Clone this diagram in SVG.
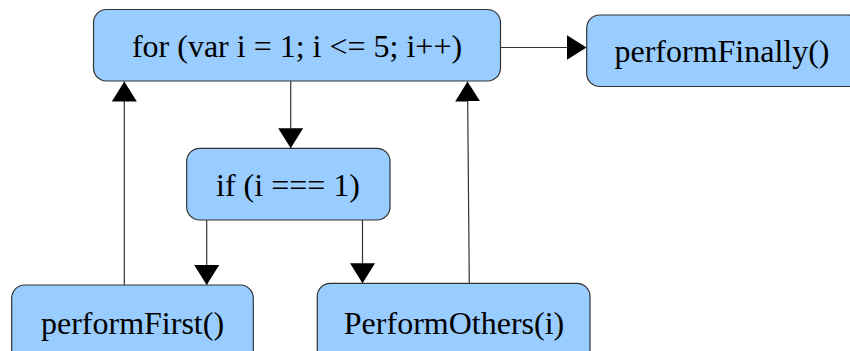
<svg xmlns="http://www.w3.org/2000/svg" width="850" height="351" viewBox="0 0 850 351">
<defs>
<style>
.box{fill:#99ccff;stroke:#333333;stroke-width:1.2}
.lbl{font-family:"Liberation Serif","Times New Roman",serif;font-size:32px;fill:#000;text-anchor:middle}
.con{stroke:#333333;stroke-width:1.2;fill:none;marker-end:url(#ah)}
</style>
<marker id="ah" markerUnits="userSpaceOnUse" markerWidth="21" markerHeight="26" refX="20" refY="12.5" orient="auto" viewBox="0 0 21 26">
<path d="M0,0 L20,12.5 L0,25 z" fill="#000"/>
</marker>
</defs>
<rect width="850" height="351" fill="#ffffff"/>
<g id="connectors">
<line class="con" x1="500.5" y1="47.5" x2="586.5" y2="47.5"/>
<line class="con" x1="290.7" y1="81" x2="290.7" y2="148.3"/>
<line class="con" x1="206.7" y1="220" x2="206.7" y2="285"/>
<line class="con" x1="362.5" y1="220" x2="362.5" y2="283.3"/>
<line class="con" x1="124.3" y1="285" x2="124.3" y2="81.5"/>
<line class="con" x1="469.3" y1="283.3" x2="467.5" y2="81.5"/>
</g>
<g id="node-for">
<rect class="box" x="93.5" y="9.5" width="407" height="71.5" rx="13"/>
<text class="lbl" x="297" y="57">for (var i = 1; i &lt;= 5; i++)</text>
</g>
<g id="node-finally">
<rect class="box" x="586.7" y="15" width="275" height="71.5" rx="13"/>
<text class="lbl" x="722" y="62">performFinally()</text>
</g>
<g id="node-if">
<rect class="box" x="186.7" y="148.3" width="203.3" height="71.7" rx="13"/>
<text class="lbl" x="288" y="196">if (i === 1)</text>
</g>
<g id="node-first">
<rect class="box" x="11.7" y="285" width="241.6" height="90" rx="13"/>
<text class="lbl" x="132.5" y="334">performFirst()</text>
</g>
<g id="node-others">
<rect class="box" x="317.3" y="283.3" width="272.7" height="90" rx="13"/>
<text class="lbl" x="454" y="334">PerformOthers(i)</text>
</g>
</svg>
